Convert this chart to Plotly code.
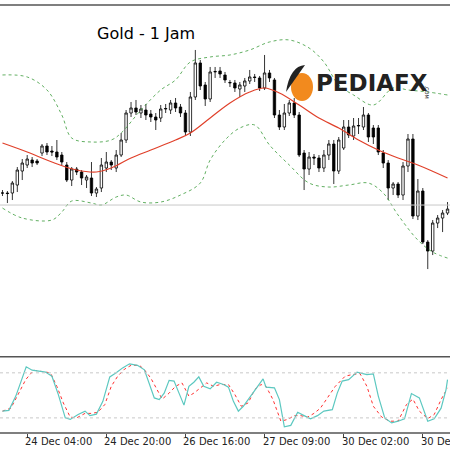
import plotly.graph_objects as go

# candles (hourly bars), price units
opens = [207, 207, 207, 215, 229, 235, 240, 239, 247, 254, 249, 248, 245, 235, 220, 231, 228, 220, 222, 207,
         212, 232, 238, 232, 245, 260, 287, 292, 287, 290, 286, 283, 282, 291, 290, 297, 293, 287, 268, 303,
         337, 315, 301, 328, 329, 325, 317, 317, 311, 314, 319, 323, 322, 312, 327, 320, 285, 273, 287, 297,
         285, 247, 231, 243, 242, 232, 245, 256, 229, 252, 273, 264, 274, 273, 285, 272, 272, 247, 237, 212,
         216, 205, 234, 261, 184, 209, 158, 149, 177, 182, 187]
closes = [207, 206.5, 217, 230, 237, 241, 237, 237, 254, 248, 248, 243, 238, 220, 231, 228, 222, 223, 207, 211,
          235, 238, 235, 245, 260, 287, 292, 288, 291, 285, 283, 280, 291, 291.5, 297, 292, 287, 268, 303, 337,
          314, 301, 328, 328.5, 326, 320, 317.5, 312, 315, 319, 323, 322.5, 312, 327, 322, 285, 273, 287, 297, 285,
          245, 231, 243, 242, 232, 245, 256, 229, 260, 273, 265, 274, 274.5, 285, 263, 263, 248, 237, 212, 216,
          205, 234, 261, 184, 209, 158, 149, 177, 182, 187, 191]
highs = [210, 209, 219, 233, 241, 245, 243, 241, 256, 257, 254, 260, 248, 238, 233, 233, 230, 225, 238, 213,
         242, 248, 240, 250, 267, 290, 298, 300, 295, 296, 290, 287, 295, 296, 300, 302, 296, 290, 308, 350,
         340, 318, 333, 333, 333, 328, 320, 320, 318, 322, 330, 326, 324, 345, 330, 322, 290, 296, 300, 302,
         288, 250, 248, 246, 245, 250, 260, 260, 263, 280, 280, 282, 282, 293, 287, 275, 275, 250, 240, 218,
         218, 238, 266, 266, 221, 212, 160, 180, 185, 190, 198]
lows = [204, 197, 200, 208, 220, 232, 233, 235, 244, 245, 244, 240, 235, 218, 214, 225, 215, 212, 204, 203,
        208, 228, 230, 228, 243, 257, 283, 285, 282, 280, 278, 270, 278, 287, 286, 288, 283, 264, 264, 300,
        310, 294, 298, 322, 322, 317, 313, 308, 303, 308, 316, 318, 309, 310, 318, 282, 270, 270, 284, 282,
        243, 210, 225, 235, 228, 228, 240, 216, 226, 250, 262, 260, 266, 270, 258, 256, 245, 232, 200, 205,
        202, 200, 228, 181, 180, 156, 131, 145, 172, 168, 185]

# bollinger bands (bar index, price)
mid_bar = [0, 5, 10, 15, 19, 22, 26, 30, 35, 38, 42, 46, 50, 53, 56, 60, 64, 68, 72, 76, 80, 84, 90]
mid_val = [257, 248, 238, 230, 228, 232, 242, 250, 260, 267, 282, 297, 308, 312, 307, 295, 282, 272, 260, 250, 242, 235, 222]
up_bar = [0, 5, 9, 12, 14, 18, 22, 24, 28, 32, 35, 38, 42, 46, 50, 54, 58, 62, 65, 68, 71, 75, 79, 82, 86, 90]
up_val = [325, 323, 310, 285, 262, 258, 260, 267, 290, 310, 320, 338, 343, 345, 350, 358, 360, 352, 338, 315, 305, 295, 312, 310, 308, 305]
lo_bar = [0, 4, 10, 12, 14, 18, 20, 23, 25, 28, 32, 36, 40, 42, 45, 48, 51, 54, 58, 62, 66, 70, 74, 77, 80, 84, 87, 90]
lo_val = [192, 182, 180, 188, 199, 197, 195, 203, 205, 198, 198, 205, 217, 240, 260, 272, 275, 255, 235, 217, 213, 215, 217, 207, 185, 160, 148, 142]

# stochastic
k_bar = [0, 1.3, 2.7, 3.7, 4.8, 6, 7.3, 8.7, 10, 11.3, 12.7, 13.7, 15.3, 16.7, 17.7, 19, 20.3, 21.7, 23, 24.3,
         25.7, 27.3, 28.7, 29.7, 30.7, 31.7, 32.7, 33.7, 34.7, 35.7, 36.7, 37.7, 38.7, 39.7, 40.7, 42, 43.3, 44.7,
         45.7, 46.7, 47.7, 48.7, 50.7, 52.7, 53.3, 55, 56, 57, 58.3, 59.7, 61, 62.3, 63.7, 65, 66.7, 67.7, 68.7,
         70, 71.7, 73.7, 75, 76, 77.3, 78.7, 80, 81.3, 82.7, 84.3, 86, 87.3, 88.7, 89.7, 90]
k_val = [29, 30, 49, 67, 88, 83.5, 82, 81, 75.5, 51, 20, 18, 24.4, 29, 23, 25, 42, 74.6, 80, 86.6,
         92, 90, 84, 66.6, 46.6, 44.4, 53, 70, 69, 53, 37, 62, 67.5, 74.6, 62, 58.6, 67.5, 64.4,
         61, 42, 29, 35.5, 53, 72, 61, 60, 44.4, 8, 10, 27.5, 23, 18.7, 23, 29, 31, 53, 69,
         71, 81, 77.7, 78.6, 49, 20, 13.3, 15.6, 18.7, 52.4, 46.6, 15.6, 18.7, 33, 57.7, 71, 72]
d_bar = [0, 1.7, 3.3, 4.7, 6.3, 8, 9.7, 11, 12.3, 13.7, 15, 16.7, 18, 19.3, 20.7, 22, 23.3, 24.7, 26, 27.7,
         28.7, 30, 31.3, 32.3, 33.7, 35, 36.3, 37.7, 38.7, 40, 41.3, 42.7, 44, 45.7, 47, 48.3, 49.7, 51, 52.3,
         53.3, 54.7, 56.3, 57.7, 59, 60.3, 61.7, 63, 64.3, 66, 67.3, 69.3, 70.7, 72.3, 73.7, 75, 76.7, 78.3,
         80, 81.7, 83, 84.3, 86, 87.3, 88.7, 90]
d_val = [29, 33, 53, 71, 83.5, 82, 80, 62, 40, 21, 20, 26, 26, 27.5, 37.8, 62, 75.5, 85, 90, 90,
         84, 73, 57.7, 45, 53, 62, 66.6, 49, 53, 60, 66.6, 62, 64.4, 64.4, 51, 35.5, 40, 57.7, 64.4,
         62, 44.4, 15.6, 18, 23, 23, 21, 26, 33, 49, 62, 75.5, 77.7, 79, 62, 35.5, 21, 15.6,
         15.6, 37.8, 45, 29, 19, 24.4, 44.4, 60]

tick_bars = [5, 21, 37, 53, 69, 85]
tick_labels = ["24 Dec 04:00", "24 Dec 20:00", "26 Dec 16:00", "27 Dec 09:00", "30 Dec 02:00", "30 Dec 18:00"]

bars = list(range(len(opens)))

fig = go.Figure()
fig.add_trace(go.Scatter(x=up_bar, y=up_val, mode="lines", line=dict(color="#3a9a3a", width=0.8, dash="dot", shape="spline"), yaxis="y"))
fig.add_trace(go.Scatter(x=lo_bar, y=lo_val, mode="lines", line=dict(color="#3a9a3a", width=0.8, dash="dot", shape="spline"), yaxis="y"))
fig.add_trace(go.Scatter(x=mid_bar, y=mid_val, mode="lines", line=dict(color="#e0402a", width=1.2, shape="spline"), yaxis="y"))
fig.add_trace(go.Candlestick(x=bars, open=opens, high=highs, low=lows, close=closes, whiskerwidth=0,
                             increasing=dict(fillcolor="white", line=dict(color="black", width=0.8)),
                             decreasing=dict(fillcolor="black", line=dict(color="black", width=0.8)),
                             yaxis="y"))
fig.add_trace(go.Scatter(x=d_bar, y=d_val, mode="lines", line=dict(color="#ff3030", width=1, dash="dot"), xaxis="x2", yaxis="y2"))
fig.add_trace(go.Scatter(x=k_bar, y=k_val, mode="lines", line=dict(color="#5cc8c0", width=1.2), xaxis="x2", yaxis="y2"))

xr = [-0.5, 90.5]
fig.update_layout(
    width=450, height=450, margin=dict(l=0, r=0, t=0, b=0),
    paper_bgcolor="white", plot_bgcolor="white", showlegend=False,
    xaxis=dict(range=xr, domain=[0, 1], anchor="y", visible=False, rangeslider=dict(visible=False)),
    yaxis=dict(range=[50, 395], domain=[0.222, 0.989], visible=False),
    xaxis2=dict(range=xr, domain=[0, 1], anchor="y2", showticklabels=False, ticks="outside", ticklen=4,
                tickcolor="#444", tickvals=tick_bars, showgrid=False, zeroline=False),
    yaxis2=dict(range=[0, 101.3], domain=[0.038, 0.207], showticklabels=False, showgrid=False,
                zeroline=False, tickvals=[]),
    shapes=[
        dict(type="line", xref="paper", yref="paper", x0=0, x1=1, y0=0.989, y1=0.989, line=dict(color="#555", width=1.5)),
        dict(type="line", xref="paper", yref="y", x0=0, x1=1, y0=195, y1=195, line=dict(color="#c8c8c8", width=1)),
        dict(type="line", xref="paper", yref="paper", x0=0, x1=1, y0=0.207, y1=0.207, line=dict(color="#555", width=1.5)),
        dict(type="line", xref="paper", yref="paper", x0=0, x1=1, y0=0.038, y1=0.038, line=dict(color="#555", width=1.5)),
        dict(type="line", xref="paper", yref="y2", x0=0, x1=1, y0=80, y1=80, line=dict(color="#c8c8c8", width=1, dash="dot")),
        dict(type="line", xref="paper", yref="y2", x0=0, x1=1, y0=20, y1=20, line=dict(color="#c8c8c8", width=1, dash="dot")),
        dict(type="circle", xref="paper", yref="paper", x0=291 / 450, x1=313 / 450, y0=1 - 101 / 450, y1=1 - 73 / 450,
             fillcolor="#f28a1e", line=dict(width=0)),
        dict(type="path", xref="paper", yref="paper",
             path="M %f %f Q %f %f %f %f L %f %f Z" % (286 / 450, 1 - 92 / 450, 290 / 450, 1 - 66 / 450, 305 / 450, 1 - 65 / 450,
                                                     298 / 450, 1 - 75 / 450),
             fillcolor="#222", line=dict(width=0)),
    ],
)

annotations = [
    dict(x=95 / 450, y=1 - 33 / 450, xref="paper", yref="paper", text="Gold - 1 Jam", showarrow=False,
         xanchor="left", yanchor="middle", font=dict(family="DejaVu Sans", size=16, color="black")),
    dict(x=314 / 450, y=1 - 83 / 450, xref="paper", yref="paper", text="<b>PEDIAFX</b>", showarrow=False,
         xanchor="left", yanchor="middle", font=dict(family="DejaVu Sans", size=23, color="#222")),
    dict(x=431 / 450, y=1 - 83 / 450, xref="paper", yref="paper", text=".COM", showarrow=False, textangle=90,
         font=dict(family="DejaVu Sans", size=5, color="#222")),
]
for b, t in zip(tick_bars, tick_labels):
    annotations.append(dict(x=b, y=1 - 441 / 450, xref="x2", yref="paper", text=t, showarrow=False,
                            xanchor="left", yanchor="middle", xshift=-4,
                            font=dict(family="DejaVu Sans", size=10, color="#222")))
fig.update_layout(annotations=annotations)

fig.write_html("out.html", config={"displayModeBar": False},
               post_script="document.body.style.margin='0px';")
